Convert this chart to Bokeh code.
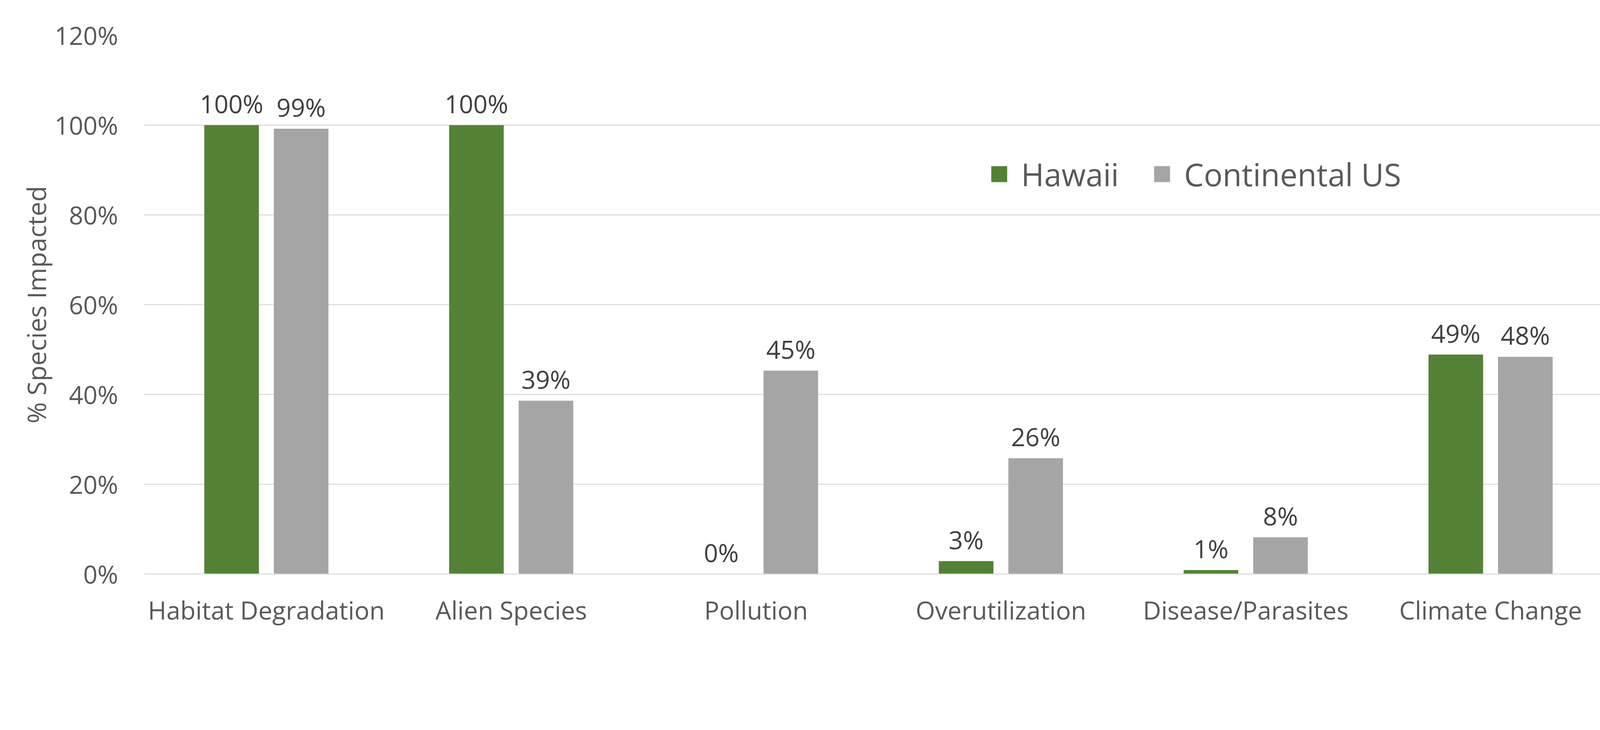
from bokeh.plotting import figure
from bokeh.models import ColumnDataSource, Range1d, FixedTicker, Legend, LegendItem, NumeralTickFormatter
from bokeh.transform import dodge
from bokeh.core.properties import value
from bokeh.embed import file_html
from bokeh.resources import INLINE

# ---- data ----
categories = ["Habitat Degradation", "Alien Species", "Pollution",
              "Overutilization", "Disease/Parasites", "Climate Change"]
series_names = ["Hawaii", "Continental US"]
hawaii = [1.00, 1.00, 0.00, 0.029, 0.009, 0.489]
continental = [0.992, 0.386, 0.453, 0.258, 0.082, 0.484]
y_ticks = [0.0, 0.2, 0.4, 0.6, 0.8, 1.0, 1.2]

# ---- styling ----
FONT = "Open Sans"
GREEN = "#548235"
GREY = "#A5A5A5"
AXIS_TXT = "#595959"
LABEL_TXT = "#404040"
GRID = "#D9D9D9"

W, H = 4099, 1620
FRAME_L, FRAME_T, FRAME_B = 368, 90, 150
CAT_PX = 626.8
x_end = (W - FRAME_L) / CAT_PX

pos = [i + 0.5 for i in range(len(categories))]
src = ColumnDataSource(dict(
    x=pos, cat=categories, hawaii=hawaii, continental=continental,
    hl=[f"{round(v * 100)}%" for v in hawaii],
    cl=[f"{round(v * 100)}%" for v in continental],
))

p = figure(width=W, height=H, x_range=Range1d(0, x_end), y_range=Range1d(0, 1.2),
           output_backend="svg", toolbar_location=None,
           min_border_left=FRAME_L, min_border_right=0,
           min_border_top=FRAME_T, min_border_bottom=FRAME_B)
p.background_fill_color = "white"
p.border_fill_color = "white"
p.outline_line_color = None

DODGE = 0.142
BW = 0.223
r1 = p.vbar(x=dodge("x", -DODGE, range=p.x_range), top="hawaii", width=BW,
            source=src, fill_color=GREEN, line_color=None)
r2 = p.vbar(x=dodge("x", DODGE, range=p.x_range), top="continental", width=BW,
            source=src, fill_color=GREY, line_color=None)

LBL_SIZE = "64px"
LBL_OFF = -55
p.text(x=dodge("x", -DODGE, range=p.x_range), y="hawaii", text="hl", source=src,
       text_font=value(FONT), text_font_size=LBL_SIZE, text_color=LABEL_TXT,
       text_align="center", text_baseline="alphabetic", y_offset=LBL_OFF)
p.text(x=dodge("x", DODGE, range=p.x_range), y="continental", text="cl", source=src,
       text_font=value(FONT), text_font_size=LBL_SIZE, text_color=LABEL_TXT,
       text_align="center", text_baseline="alphabetic", y_offset=LBL_OFF)

# x axis
xa = p.xaxis[0]
xa.ticker = FixedTicker(ticks=pos)
xa.major_label_overrides = {x: c for x, c in zip(pos, categories)}
xa.axis_line_color = GRID
xa.axis_line_width = 2.6
xa.major_tick_line_color = None
xa.minor_tick_line_color = None
xa.major_label_text_font = FONT
xa.major_label_text_font_size = "64px"
xa.major_label_text_color = AXIS_TXT
xa.major_label_standoff = 42

# y axis
ya = p.yaxis[0]
ya.ticker = FixedTicker(ticks=y_ticks)
ya.formatter = NumeralTickFormatter(format="0%")
ya.axis_line_color = None
ya.major_tick_line_color = None
ya.minor_tick_line_color = None
ya.major_label_text_font = FONT
ya.major_label_text_font_size = "64px"
ya.major_label_text_color = AXIS_TXT
ya.major_label_standoff = 60
ya.axis_label = "% Species Impacted"
ya.axis_label_text_font = FONT
ya.axis_label_text_font_size = "66px"
ya.axis_label_text_font_style = "normal"
ya.axis_label_text_color = AXIS_TXT
ya.axis_label_standoff = 0

p.xgrid.grid_line_color = None
p.ygrid.grid_line_color = GRID
p.ygrid.grid_line_width = 2.6
p.ygrid.ticker = FixedTicker(ticks=y_ticks)

legend = Legend(items=[LegendItem(label=series_names[0], renderers=[r1]),
                       LegendItem(label=series_names[1], renderers=[r2])],
                orientation="horizontal", location=(2164, 970),
                glyph_width=51, glyph_height=51, label_standoff=31, spacing=85,
                padding=0, margin=0, border_line_color=None, background_fill_alpha=0,
                label_text_font=FONT, label_text_font_size="80px",
                label_text_color=AXIS_TXT)
p.add_layout(legend)

open("out.html", "w").write(file_html(p, INLINE))
